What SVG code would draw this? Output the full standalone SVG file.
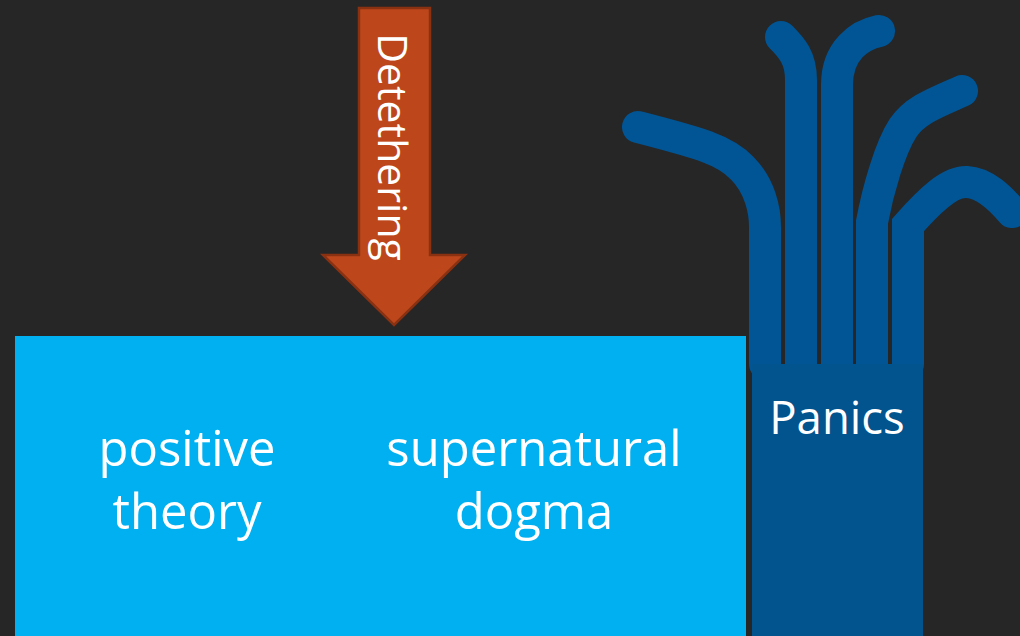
<svg xmlns="http://www.w3.org/2000/svg" width="1020" height="636" viewBox="0 0 1020 636">
<style>
.lbl{font-family:"Open Sans","Noto Sans","Liberation Sans",sans-serif;fill:#ffffff;text-anchor:middle}
.tent{fill:none;stroke:#015595;stroke-width:32;stroke-linecap:round}
</style>
<rect x="0" y="0" width="1020" height="636" fill="#262626"/>
<g id="tentacles">
<path class="tent" d="M638,127 C700,143 725,150 742,168 C760,186 765,210 765,227 L765,364"/>
<path class="tent" d="M781,37 C792,48 801,58 801,80 L801,364"/>
<path class="tent" d="M879,31 C860,35 837,50 837,85 L837,364"/>
<path class="tent" d="M962,91 C935,103 915,110 903,128 C890,148 878,190 872,222 L872,364"/>
<path class="tent" d="M1012,212 C1000,198 985,183 967,182 C950,181 930,200 908,225 L908,364"/>
</g>
<g id="positive-supernatural">
<rect x="15" y="336" width="731" height="300" fill="#00B0F0"/>
<text class="lbl" font-size="49" x="187" y="466">positive</text>
<text class="lbl" font-size="49" x="187" y="529">theory</text>
<text class="lbl" font-size="49" x="534" y="466">supernatural</text>
<text class="lbl" font-size="49" x="534" y="529">dogma</text>
</g>
<g id="panics">
<rect x="752" y="364" width="171" height="272" fill="#02548F"/>
<text class="lbl" font-size="45.5" x="837" y="434">Panics</text>
</g>
<g id="detethering">
<path d="M359,8 L430,8 L430,255 L465,255 L394,325 L323,255 L359,255 Z" fill="#BD471B" stroke="#8A3112" stroke-width="2.5" stroke-linejoin="miter"/>
<text class="lbl" font-size="41" transform="translate(378,147) rotate(90)" x="0" y="0">Detethering</text>
</g>
</svg>
